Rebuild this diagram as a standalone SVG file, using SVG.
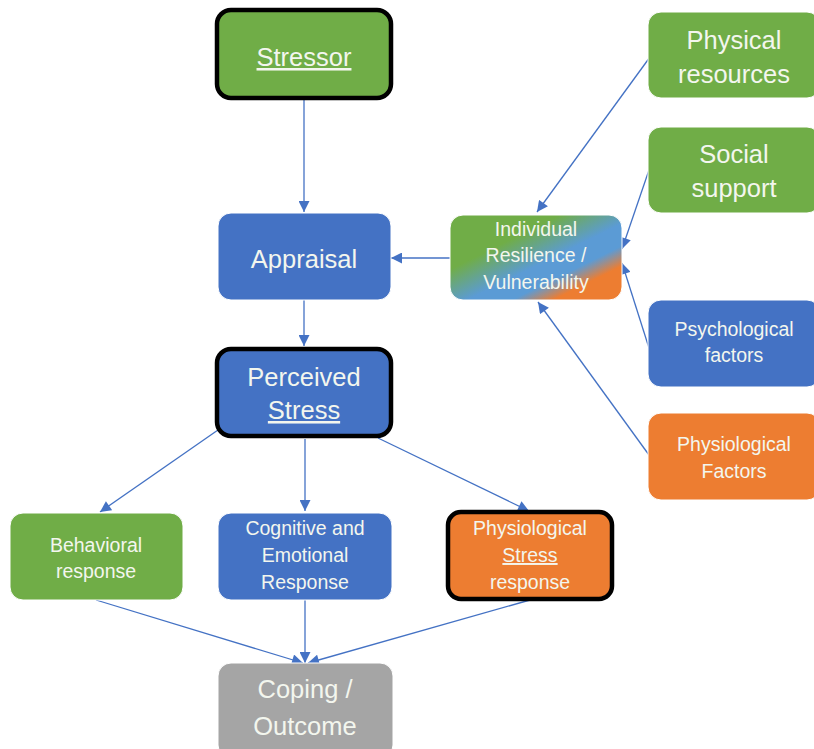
<svg xmlns="http://www.w3.org/2000/svg" width="814" height="749" viewBox="0 0 814 749">
  <style>
    .box { stroke: #ffffff; stroke-width: 1; }
    .bold { stroke: #000000; stroke-width: 4.5; }
    .green { fill: #70AD47; }
    .blue { fill: #4472C4; }
    .orange { fill: #ED7D31; }
    .gray { fill: #A5A5A5; }
    .lbl { font-family: "Liberation Sans", Arial, sans-serif; fill: #F3F6EE; text-anchor: middle; }
    .big { font-size: 25.5px; }
    .small { font-size: 19.5px; }
    .u { text-decoration: underline; }
    .conn { stroke: #4472C4; stroke-width: 1.3; fill: none; marker-end: url(#arrow); }
  </style>
  <defs>
    <marker id="arrow" viewBox="0 0 10 10" refX="10" refY="5" markerWidth="12" markerHeight="11" markerUnits="userSpaceOnUse" orient="auto">
      <path d="M0,0 L10,5 L0,10 z" fill="#4472C4"/>
    </marker>
    <linearGradient id="mix" x1="0" y1="0" x2="1" y2="1">
      <stop offset="0" stop-color="#70AD47"/>
      <stop offset="0.32" stop-color="#70AD47"/>
      <stop offset="0.55" stop-color="#5B9BD5"/>
      <stop offset="0.68" stop-color="#5B9BD5"/>
      <stop offset="0.8" stop-color="#ED7D31"/>
      <stop offset="1" stop-color="#ED7D31"/>
    </linearGradient>
  </defs>

  <!-- connectors -->
  <g id="connectors">
    <line class="conn" x1="304" y1="99" x2="304" y2="212"/>
    <line class="conn" x1="450" y1="258" x2="391" y2="258"/>
    <line class="conn" x1="304" y1="300" x2="304" y2="346"/>
    <line class="conn" x1="650" y1="57" x2="537" y2="212"/>
    <line class="conn" x1="649" y1="170" x2="622" y2="249"/>
    <line class="conn" x1="649" y1="348" x2="622" y2="263"/>
    <line class="conn" x1="649" y1="455" x2="538" y2="302"/>
    <line class="conn" x1="218" y1="430" x2="100" y2="512"/>
    <line class="conn" x1="305" y1="439" x2="305" y2="511"/>
    <line class="conn" x1="378" y1="438" x2="529" y2="511"/>
    <line class="conn" x1="96" y1="600" x2="303" y2="663"/>
    <line class="conn" x1="305" y1="600" x2="305" y2="663"/>
    <line class="conn" x1="530" y1="600" x2="308" y2="663"/>
  </g>

  <g id="stressor">
    <rect class="green bold" x="217" y="10" width="174" height="88" rx="14"/>
    <text class="lbl big u" x="304" y="66">Stressor</text>
  </g>

  <g id="appraisal">
    <rect class="blue box" x="218" y="213" width="173" height="87" rx="13"/>
    <text class="lbl big" x="304" y="268">Appraisal</text>
  </g>

  <g id="perceived-stress">
    <rect class="blue bold" x="217" y="349" width="174" height="87" rx="14"/>
    <text class="lbl big" x="304" y="386">Perceived</text>
    <text class="lbl big u" x="304" y="419">Stress</text>
  </g>

  <g id="individual">
    <rect x="450" y="215" width="172" height="85" rx="13" fill="url(#mix)" stroke="#ffffff" stroke-width="1"/>
    <text class="lbl small" x="536" y="236">Individual</text>
    <text class="lbl small" x="536" y="262">Resilience /</text>
    <text class="lbl small" x="536" y="289">Vulnerability</text>
  </g>

  <g id="physical-resources">
    <rect class="green box" x="648" y="12" width="172" height="86" rx="13"/>
    <text class="lbl big" x="734" y="49">Physical</text>
    <text class="lbl big" x="734" y="83">resources</text>
  </g>

  <g id="social-support">
    <rect class="green box" x="648" y="127" width="172" height="86" rx="13"/>
    <text class="lbl big" x="734" y="163">Social</text>
    <text class="lbl big" x="734" y="197">support</text>
  </g>

  <g id="psychological-factors">
    <rect class="blue box" x="648" y="300" width="172" height="87" rx="13"/>
    <text class="lbl small" x="734" y="336">Psychological</text>
    <text class="lbl small" x="734" y="362">factors</text>
  </g>

  <g id="physiological-factors">
    <rect class="orange box" x="648" y="413" width="172" height="87" rx="13"/>
    <text class="lbl small" x="734" y="451">Physiological</text>
    <text class="lbl small" x="734" y="478">Factors</text>
  </g>

  <g id="behavioral">
    <rect class="green box" x="10" y="513" width="173" height="87" rx="13"/>
    <text class="lbl small" x="96" y="552">Behavioral</text>
    <text class="lbl small" x="96" y="578">response</text>
  </g>

  <g id="cognitive">
    <rect class="blue box" x="218" y="513" width="174" height="87" rx="13"/>
    <text class="lbl small" x="305" y="535">Cognitive and</text>
    <text class="lbl small" x="305" y="562">Emotional</text>
    <text class="lbl small" x="305" y="589">Response</text>
  </g>

  <g id="physiological-stress">
    <rect class="orange bold" x="448" y="512" width="164" height="87" rx="13"/>
    <text class="lbl small" x="530" y="535">Physiological</text>
    <text class="lbl small u" x="530" y="562">Stress</text>
    <text class="lbl small" x="530" y="589">response</text>
  </g>

  <g id="coping">
    <rect class="gray box" x="218" y="663" width="175" height="95" rx="13"/>
    <text class="lbl big" x="305" y="698">Coping /</text>
    <text class="lbl big" x="305" y="735">Outcome</text>
  </g>
</svg>
